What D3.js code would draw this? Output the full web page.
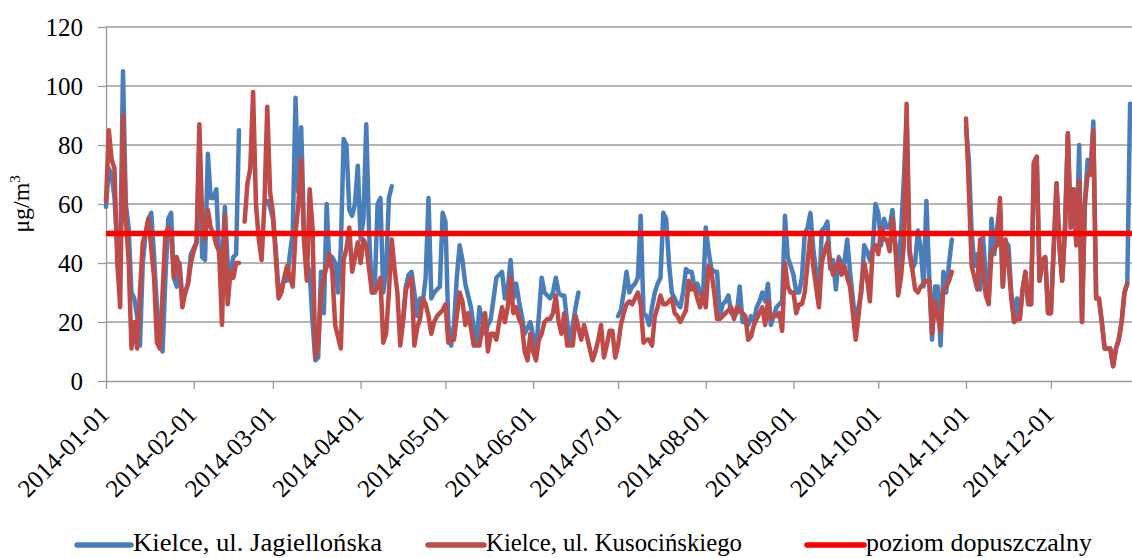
<!DOCTYPE html>
<html><head><meta charset="utf-8">
<script src="https://cdn.jsdelivr.net/npm/d3@7"></script>
<style>body{margin:0;background:#fff}svg{display:block}</style>
</head><body>
<svg id="chart" width="1132" height="558"></svg>
<script>
// ---- data (daily PM10, µg/m3, 2014) ----
const startDate = "2014-01-01";
const endDate = "2015-01-01";
const monthTicks = ["2014-01-01","2014-02-01","2014-03-01","2014-04-01","2014-05-01","2014-06-01",
                    "2014-07-01","2014-08-01","2014-09-01","2014-10-01","2014-11-01","2014-12-01"];
const yTicks = [0,20,40,60,80,100,120];
const seriesNames = ["Kielce, ul. Jagiellońska","Kielce, ul. Kusocińskiego","poziom dopuszczalny"];
const limitValue = 50;

const jagJan = [59,72,70,62,45,40,105,60,52,30,28,22,12,40,50,55,57,42,25,12,10,35,55,57,35,32,40,28,30,33,43];
const jagFeb = [45,47,80,42,41,77,62,62,65,42,38,59,40,37,42,43,85,null,null,null,null,null,null,null,null,null,61,59];
const jagMar = [55,45,30,32,34,34,43,50,96,64,86,50,40,37,20,7,8,37,23,60,39,42,40,30,45,82,80,58,56,60,73];
const jagApr = [48,55,87,50,30,32,60,62,30,37,62,66,null,null,null,21,32,36,37,30,22,28,27,35,62,28,30,31,32,57];
const jagMay = [54,19,12,19,35,46,41,33,29,25,18,13,25,20,16,19,21,28,35,36,37,28,31,41,28,33,27,22,16,18,20];
const jagJun = [15,10,22,35,30,29,28,30,35,30,29,29,20,13,19,25,30,null,null,null,null,null,null,null,null,null,null,null,null,null];
const jagJul = [22,24,30,37,30,32,33,35,56,23,22,19,25,30,33,35,57,55,40,30,28,26,25,30,38,37,37,32,33,30,28];
const jagAug = [52,44,38,37,37,22,26,27,29,23,22,23,32,20,20,19,22,20,25,27,30,27,33,19,22,25,26,27,56,42,39];
const jagSep = [36,30,30,35,50,52,57,45,37,27,51,52,54,38,41,31,42,40,40,48,37,28,19,25,30,46,44,41,45,60];
const jagOct = [57,46,55,52,52,58,46,37,50,68,90,43,38,40,51,45,32,61,35,14,32,32,12,37,30,40,48,null,null,null,null];
const jagNov = [86,75,50,39,43,31,49,35,27,55,43,52,59,32,47,46,30,20,28,21,31,37,26,26,74,76,34,41,42,23];
const jagDec = [23,45,67,46,34,52,84,52,65,46,80,20,60,75,70,88,28,28,20,11,11,11,5,11,14,20,30,33,94,null,null];

const kusJan = [61,85,75,72,40,25,90,55,41,11,20,11,30,47,50,55,45,35,13,11,30,50,52,50,35,42,38,25,30,33,40];
const kusFeb = [44,47,87,55,48,58,52,50,46,44,19,56,26,37,35,40,40,null,54,67,72,98,60,48,41,60,93,64];
const kusMar = [57,42,28,30,35,39,35,32,50,60,75,47,34,65,52,8,12,30,35,39,43,37,19,15,11,41,45,52,37,42,47];
const kusApr = [40,48,46,38,30,30,32,35,13,16,30,48,38,30,12,20,31,33,35,12,18,21,28,26,22,16,20,22,23,24];
const kusMay = [26,13,14,14,22,30,27,19,23,18,12,12,12,18,23,10,16,16,14,20,25,20,25,35,23,25,21,19,10,7,16];
const kusJun = [10,7,14,16,20,21,21,23,29,20,16,23,12,12,12,22,18,14,19,15,11,7,10,14,19,8,12,17,17,8];
const kusJul = [12,19,23,26,27,26,28,30,26,13,14,14,12,22,25,29,26,26,27,28,23,22,20,22,24,34,31,32,28,25,30];
const kusAug = [25,39,37,30,21,21,22,23,24,25,21,25,24,23,22,14,15,19,21,23,25,19,27,21,22,22,23,17,40,32,30];
const kusSep = [30,23,26,26,30,40,50,39,32,25,40,44,47,40,36,38,41,36,39,35,32,23,14,22,32,40,35,27,44,46];
const kusOct = [43,52,48,48,44,55,46,29,35,46,94,45,38,31,30,32,33,34,34,16,27,22,17,31,32,34,37,null,null,null,null];
const kusNov = [89,65,39,35,31,48,38,29,26,43,45,46,62,32,48,40,28,20,21,21,31,37,26,26,74,76,34,41,42,23];
const kusDec = [23,45,67,46,34,52,84,52,65,46,68,20,60,70,70,85,28,28,20,11,11,11,5,11,14,20,30,33,null,null,null];

const jagiellonska = [].concat(jagJan,jagFeb,jagMar,jagApr,jagMay,jagJun,jagJul,jagAug,jagSep,jagOct,jagNov,jagDec);
const kusocinskiego = [].concat(kusJan,kusFeb,kusMar,kusApr,kusMay,kusJun,kusJul,kusAug,kusSep,kusOct,kusNov,kusDec);

// ---- drawing ----
(function () {
const parse = d3.utcParse("%Y-%m-%d");
const fmt = d3.utcFormat("%Y-%m-%d");
const t0 = parse(startDate), t1 = parse(endDate);
const toPoints = arr => arr.map((v, i) => ({date: d3.utcDay.offset(t0, i), v}));

const svg = d3.select("#chart");
const FONT = "'Liberation Serif','Times New Roman',serif";
const plotLeft = 106, plotTop = 27, plotBottom = 381, dayPx = 2.829;
const x = d3.scaleUtc().domain([t0, t1]).range([plotLeft, plotLeft + 365 * dayPx]);
const y = d3.scaleLinear().domain([0, 120]).range([plotBottom, plotTop]);
const gridColor = "#9a9a9a";

svg.append("rect").attr("width", 1132).attr("height", 558).attr("fill", "#fff");

// gridlines
svg.append("g").selectAll("line").data(yTicks.filter(d => d > 0)).join("line")
  .attr("x1", plotLeft).attr("x2", 1132)
  .attr("y1", d => y(d)).attr("y2", d => y(d))
  .attr("stroke", gridColor).attr("stroke-width", 1.3);

// y axis
const yAxis = svg.append("g").attr("transform", `translate(${plotLeft},0)`)
  .call(d3.axisLeft(y).tickValues(yTicks).tickSize(8).tickSizeOuter(0).tickPadding(15));
yAxis.select(".domain").attr("stroke", gridColor).attr("stroke-width", 1.3);
yAxis.selectAll(".tick line").attr("stroke", gridColor).attr("stroke-width", 1.3);
yAxis.selectAll("text").attr("font-family", FONT).attr("font-size", 25).attr("fill", "#000");

// x axis
const xAxis = svg.append("g").attr("transform", `translate(0,${plotBottom})`)
  .call(d3.axisBottom(x).tickValues(monthTicks.map(parse)).tickFormat(fmt).tickSize(8).tickSizeOuter(0));
xAxis.select(".domain").attr("stroke", gridColor).attr("stroke-width", 1.3);
xAxis.selectAll(".tick line").attr("stroke", gridColor).attr("stroke-width", 1.3);
xAxis.selectAll("text")
  .attr("font-family", FONT).attr("font-size", 25).attr("fill", "#000")
  .attr("text-anchor", "end").attr("dy", null).attr("y", null)
  .attr("transform", "translate(4,35) rotate(-45)");

// y title
svg.append("text")
  .attr("transform", "translate(29,204) rotate(-90)")
  .attr("text-anchor", "middle")
  .attr("font-family", FONT).attr("font-size", 24).attr("fill", "#000")
  .call(t => {
    t.append("tspan").text("μg/m");
    t.append("tspan").attr("dy", -9).attr("font-size", 15).text("3");
  });

// series
const line = d3.line().defined(d => d.v != null).x(d => x(d.date)).y(d => y(d.v));
const colors = ["#4A7EBB", "#BE4B48", "#FF0000"];
[jagiellonska, kusocinskiego].forEach((arr, i) => {
  svg.append("path").datum(toPoints(arr))
    .attr("d", line).attr("fill", "none")
    .attr("stroke", colors[i]).attr("stroke-width", 4.5)
    .attr("stroke-linejoin", "round").attr("stroke-linecap", "round");
});

// limit line
svg.append("line")
  .attr("x1", plotLeft).attr("x2", 1132)
  .attr("y1", y(limitValue)).attr("y2", y(limitValue))
  .attr("stroke", colors[2]).attr("stroke-width", 5.5);

// legend
const legendItems = [
  {name: seriesNames[0], x0: 77, x1: 131, w: 249},
  {name: seriesNames[1], x0: 428, x1: 484, w: 256},
  {name: seriesNames[2], x0: 807, x1: 864, w: 226}
];
const lg = svg.append("g");
legendItems.forEach((d, i) => {
  lg.append("line").attr("x1", d.x0).attr("x2", d.x1).attr("y1", 545).attr("y2", 545)
    .attr("stroke", colors[i]).attr("stroke-width", 5.5).attr("stroke-linecap", "round");
  lg.append("text").attr("x", d.x1 + 2).attr("y", 551)
    .attr("font-family", FONT).attr("font-size", 25).attr("fill", "#000")
    .attr("textLength", d.w).attr("lengthAdjust", "spacingAndGlyphs").text(d.name);
});
})();
</script>
</body></html>
